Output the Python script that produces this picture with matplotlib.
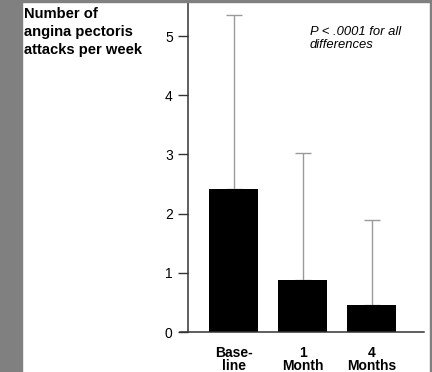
import matplotlib
matplotlib.use("Agg")
import matplotlib.pyplot as plt
from matplotlib.patches import Rectangle

categories = ["Base-\nline", "1\nMonth", "4\nMonths"]
means = [2.42, 0.88, 0.45]
upper_err = [2.93, 2.15, 1.45]  # SD added on top of mean

plt.rcParams['font.family'] = ['Liberation Sans', 'DejaVu Sans']

fig = plt.figure(figsize=(4.32, 3.72), dpi=100)
W, H = 432, 372
ax = fig.add_axes([188/W, 1-332/H, (424-188)/W, (332-3)/H])

x = list(range(len(categories)))
ax.bar(x, means, width=0.70, color='black', zorder=2)
ax.errorbar(x, means, yerr=[[0]*3, upper_err], fmt='none', ecolor='#9a9a9a',
            elinewidth=1.0, capsize=5.5, capthick=1.0, zorder=1)

ax.set_xlim(-0.66, 2.76)
ax.set_ylim(0, 5.56)
ax.set_yticks([0, 1, 2, 3, 4, 5])
ax.set_xticks(x)
ax.set_xticklabels(categories)
for lbl in ax.get_xticklabels():
    lbl.set_fontweight('bold')
    lbl.set_fontsize(10)
    lbl.set_linespacing(0.95)
ax.tick_params(axis='x', length=0, pad=10)
ax.tick_params(axis='y', length=7, width=1.0, pad=4, labelsize=10, color='#333333')
for s in ['top', 'right']:
    ax.spines[s].set_visible(False)
for s in ['left', 'bottom']:
    ax.spines[s].set_linewidth(1.1)
    ax.spines[s].set_color('#333333')
ax.spines['bottom'].set_bounds(-0.78, 2.76)

fig.text(24/W, 1-7/H, "Number of\nangina pectoris\nattacks per week", ha='left', va='top',
         fontsize=10.6, fontweight='bold', linespacing=1.38)
fig.text(310/W, 1-26/H, "P < .0001 for all\ndifferences", ha='left', va='top',
         fontsize=9.4, style='italic', linespacing=1.15)

fig.patches.append(Rectangle((0, 0), 22/W, 1, transform=fig.transFigure, color='#808080', zorder=0))
fig.patches.append(Rectangle((0, 1-1.5/H), 1, 1.5/H, transform=fig.transFigure, color='#808080', zorder=0))
fig.patches.append(Rectangle((1-2/W, 0), 2/W, 1, transform=fig.transFigure, color='#808080', zorder=0))

fig.savefig("out.png", dpi=100)
